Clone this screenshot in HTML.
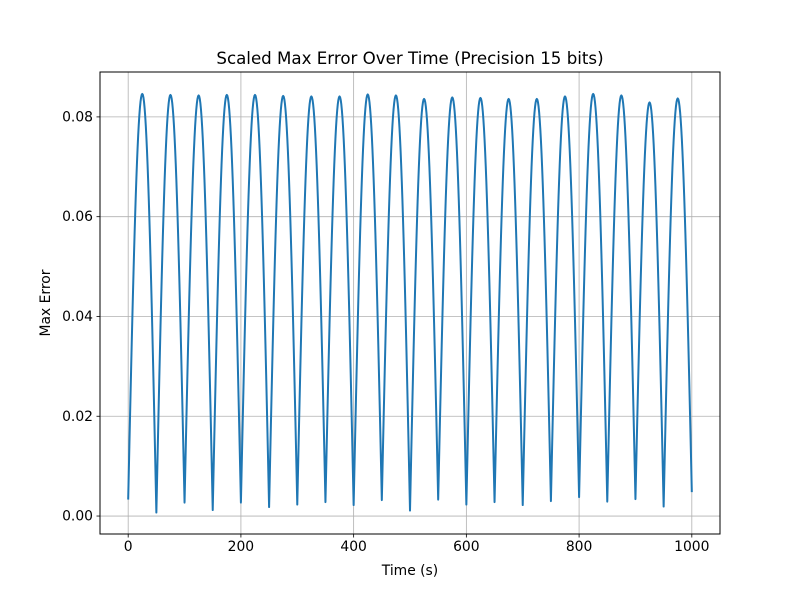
<!DOCTYPE html>
<html><head><meta charset="utf-8">
<style>
html,body{margin:0;padding:0;background:#fff;}
svg text{font-family:"DejaVu Sans","Liberation Sans",sans-serif;fill:#000;}
</style></head>
<body>
<svg id="chart" width="800" height="600" viewBox="0 0 800 600" xmlns="http://www.w3.org/2000/svg">
<rect width="800" height="600" fill="#fff"/>
<g id="grid"></g>
<g id="ticks"></g>
<path id="line" fill="none" stroke="#1f77b4" stroke-width="2" stroke-linejoin="round"/>
<rect x="100" y="72" width="620" height="462" fill="none" stroke="#000" stroke-width="1"/>
<text x="410" y="64" font-size="16.67" text-anchor="middle">Scaled Max Error Over Time (Precision 15 bits)</text>
<text x="410" y="575" font-size="13.89" text-anchor="middle">Time (s)</text>
<text transform="translate(50,303) rotate(-90)" font-size="13.89" text-anchor="middle">Max Error</text>
</svg>
<script>
const troughTimes = [0,50,100,150,200,250,300,350,400,450,500,550,600,650,700,750,800,850,900,950,1000];
const troughValues = [0.0033,0.0007,0.0027,0.0012,0.0027,0.0018,0.0023,0.0028,0.0022,0.0032,0.0011,0.0033,0.0023,0.0028,0.0022,0.0030,0.0038,0.0029,0.0034,0.0019,0.0048];
const peakValues = [0.0846,0.0844,0.0843,0.0844,0.0844,0.0842,0.0841,0.0841,0.0845,0.0843,0.0836,0.0839,0.0838,0.0836,0.0836,0.0841,0.0846,0.0843,0.0829,0.0837];
const xTicks = [0,200,400,600,800,1000];
const yTicks = [0,0.02,0.04,0.06,0.08];
const yTickLabels = ["0.00","0.02","0.04","0.06","0.08"];

const L=100,R=720,T=72,B=534;
const xMin=-50,xMax=1050,yMin=-0.0036,yMax=0.0890;
const sx=v=>L+(v-xMin)/(xMax-xMin)*(R-L);
const sy=v=>B-(v-yMin)/(yMax-yMin)*(B-T);
const NS="http://www.w3.org/2000/svg";
const grid=document.getElementById('grid'), ticks=document.getElementById('ticks');
function mk(tag,attrs,parent){const e=document.createElementNS(NS,tag);for(const k in attrs)e.setAttribute(k,attrs[k]);parent.appendChild(e);return e;}

xTicks.forEach(v=>{
  const x=sx(v);
  const g=mk('line',{x1:x,x2:x,y1:T,y2:B,stroke:'#b0b0b0','stroke-width':0.8},grid);
  
  
  const t=mk('line',{x1:x,x2:x,y1:B,y2:B+3.5,stroke:'#000','stroke-width':0.8},ticks);
  
  
  const l=mk('text',{x:x,y:B+17,'font-size':13.89,'text-anchor':'middle'},ticks);
  l.textContent=String(v);
  
  
});
yTicks.forEach((v,i)=>{
  const y=sy(v);
  const g=mk('line',{x1:L,x2:R,y1:y,y2:y,stroke:'#b0b0b0','stroke-width':0.8},grid);
  
  
  const t=mk('line',{x1:L-3.5,x2:L,y1:y,y2:y,stroke:'#000','stroke-width':0.8},ticks);
  
  
  const l=mk('text',{x:L-7,y:y+4.5,'font-size':13.89,'text-anchor':'end'},ticks);
  l.textContent=yTickLabels[i];
  
  
});

let d='';
for(let i=0;i<peakValues.length;i++){
  const t0=troughTimes[i], t1=troughTimes[i+1], tm=(t0+t1)/2;
  const a=troughValues[i], b=troughValues[i+1], p=peakValues[i];
  const N=24;
  for(let k=0;k<=N;k++){
    const t=t0+(tm-t0)*k/N;
    const v=a+(p-a)*Math.sin(Math.PI/2*k/N);
    d+=(d===''?'M':'L')+sx(t).toFixed(2)+','+sy(v).toFixed(2);
  }
  for(let k=1;k<=N;k++){
    const t=tm+(t1-tm)*k/N;
    const v=b+(p-b)*Math.cos(Math.PI/2*k/N);
    d+='L'+sx(t).toFixed(2)+','+sy(v).toFixed(2);
  }
}
document.getElementById('line').setAttribute('d',d);
</script>
</body></html>
